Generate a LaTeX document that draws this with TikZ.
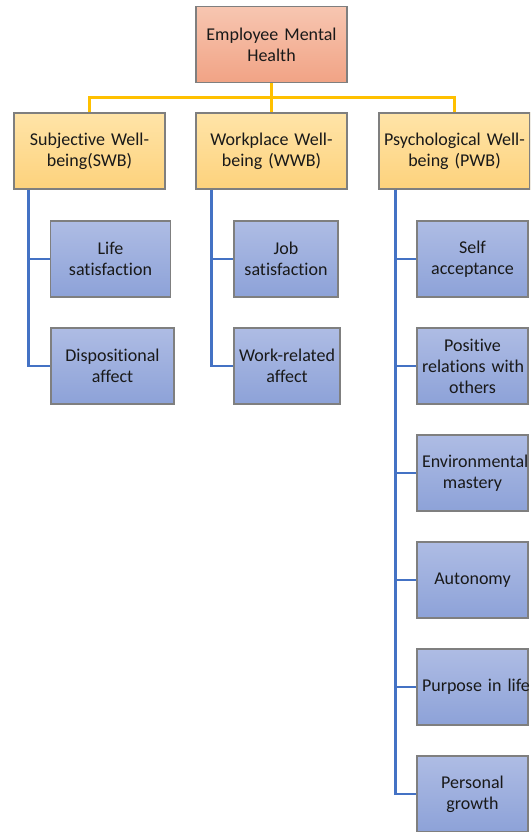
\documentclass[tikz,border=0pt]{standalone}
\usepackage{fontspec}
\setmainfont{Carlito}[Ligatures=NoCommon]
\usetikzlibrary{calc}

\definecolor{rootTop}{HTML}{F7C6B1}
\definecolor{rootBot}{HTML}{F1A385}
\definecolor{mainTop}{HTML}{FFE4A8}
\definecolor{mainBot}{HTML}{FDD27C}
\definecolor{leafTop}{HTML}{AEBCE4}
\definecolor{leafBot}{HTML}{8DA2D8}
\definecolor{boxGray}{HTML}{7F7F7F}
\definecolor{lineGold}{HTML}{FFC000}
\definecolor{lineBlue}{HTML}{4472C4}

\begin{document}
\begin{tikzpicture}[x=1pt, y=-1pt,
	box/.style={draw=boxGray, line width=1.2pt, align=center, inner xsep=5pt, inner ysep=0pt,
		minimum height=76pt, text=black!90, font=\fontsize{18}{21}\selectfont},
	rootbox/.style={box, top color=rootTop, bottom color=rootBot, text width=141pt},
	mainbox/.style={box, top color=mainTop, bottom color=mainBot, text width=141pt},
	leafbox/.style={box, top color=leafTop, bottom color=leafBot, text width=#1},
	goldline/.style={draw=lineGold, line width=2.5pt},
	blueline/.style={draw=lineBlue, line width=2.5pt}]
	\def\rowA{259}
	\def\rowgap{107}

	\useasboundingbox (0,0) rectangle (530,832);
	\clip (0,0) rectangle (530,832);

	% top and first level
	\node[rootbox] (root) at (271.5,44.5) {Employee Mental\\Health};
	\node[mainbox] (swb) at (89.5,151) {Subjective Well-\\being(SWB)};
	\node[mainbox] (wwb) at (271.5,151) {Workplace Well-\\being (WWB)};
	\node[mainbox] (pwb) at (454.5,151) {\mbox{Psychological Well-}\\being (PWB)};

	\coordinate (bus) at ($(root.south)!0.5!(wwb.north)$);
	\draw[goldline] (root.south) -- (wwb.north);
	\draw[goldline] (swb.north) |- (bus) -| (pwb.north);

	% second level
	\node[leafbox=110pt] (life) at (110.5,\rowA) {Life\\satisfaction};
	\node[leafbox=113pt] (disp) at (112.5,\rowA+\rowgap) {Dispositional\\affect};
	\node[leafbox=94pt] (job) at (286,\rowA) {Job\\satisfaction};
	\node[leafbox=96pt] (work) at (287,\rowA+\rowgap) {\mbox{Work-related}\\affect};
	\foreach \name/\txt [count=\i from 0] in {self/Self\\acceptance, rel/Positive\\\mbox{relations with}\\others,
		env/\mbox{Environmental}\\mastery, auto/Autonomy, purp/\mbox{Purpose in life}, grow/Personal\\growth}
		\node[leafbox=101pt] (\name) at (472.5,\rowA+\rowgap*\i) {\txt};

	\coordinate (swbtrunk) at ([xshift=15pt]swb.south west);
	\coordinate (wwbtrunk) at ([xshift=16pt]wwb.south west);
	\coordinate (pwbtrunk) at ([xshift=17pt]pwb.south west);
	\foreach \leaf in {life, disp}
		\draw[blueline] (swbtrunk) |- (\leaf.west);
	\foreach \leaf in {job, work}
		\draw[blueline] (wwbtrunk) |- (\leaf.west);
	\foreach \leaf in {self, rel, env, auto, purp, grow}
		\draw[blueline] (pwbtrunk) |- (\leaf.west);
\end{tikzpicture}
\end{document}
